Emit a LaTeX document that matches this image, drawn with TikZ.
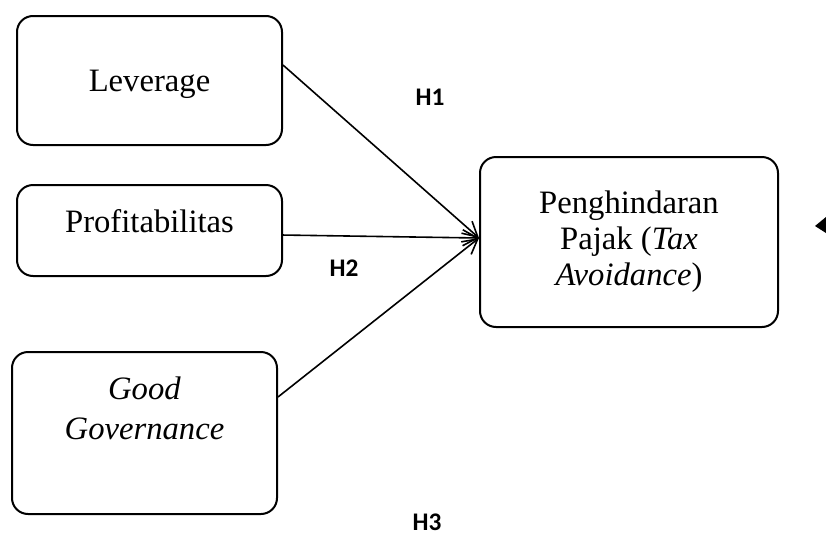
\documentclass[tikz,border=0pt]{standalone}
\usepackage{fontspec}
\setmainfont{Liberation Serif}
\newfontfamily\hypofont{Carlito}
\usetikzlibrary{arrows.meta}

\begin{document}
\begin{tikzpicture}[
    x=0.75pt, y=-0.75pt,
    varbox/.style={
        rectangle,
        draw,
        line width=1.5pt,
        rounded corners=12pt,
        align=center,
        minimum width=198.75pt,
        font=\fontsize{24.5}{30}\selectfont
    },
    hypo/.style={
        font=\hypofont\bfseries\fontsize{19}{22}\selectfont
    },
    arrow/.style={-{Straight Barb[length=11pt,width=12pt]}, line width=1.2pt}
]

\useasboundingbox (0,0) rectangle (826,536);

\node[varbox, minimum height=96.75pt, text depth=0pt] (leverage) at (149.5,80.5) {Leverage};
\node[varbox, minimum height=68.25pt, text depth=15pt] (profit) at (149.5,230.5) {Profitabilitas};
\node[varbox, minimum height=121.5pt, text depth=37pt] (governance) at (144.5,433) {
\textit{Good}\\\textit{Governance}
};
\node[varbox, minimum width=223.5pt, minimum height=127.5pt,
    font=\fontsize{24.5}{27}\selectfont] (avoidance) at (629,242) {
Penghindaran\\Pajak (\textit{Tax}\\\textit{Avoidance})
};

\node[hypo] (h1) at (430,97) {H1};
\node[hypo] (h2) at (344,268) {H2};
\node[hypo] (h3) at (427,522) {H3};

\coordinate (target) at ([yshift=3pt]avoidance.west);

\draw[arrow] ([yshift=11.6pt]leverage.east) -- (target);
\draw[arrow] ([yshift=-3.4pt]profit.east) -- (target);
\draw[arrow] ([yshift=27pt]governance.east) -- (target);

\fill (815,226) -- (826,217) -- (826,233) -- cycle;

\end{tikzpicture}
\end{document}
